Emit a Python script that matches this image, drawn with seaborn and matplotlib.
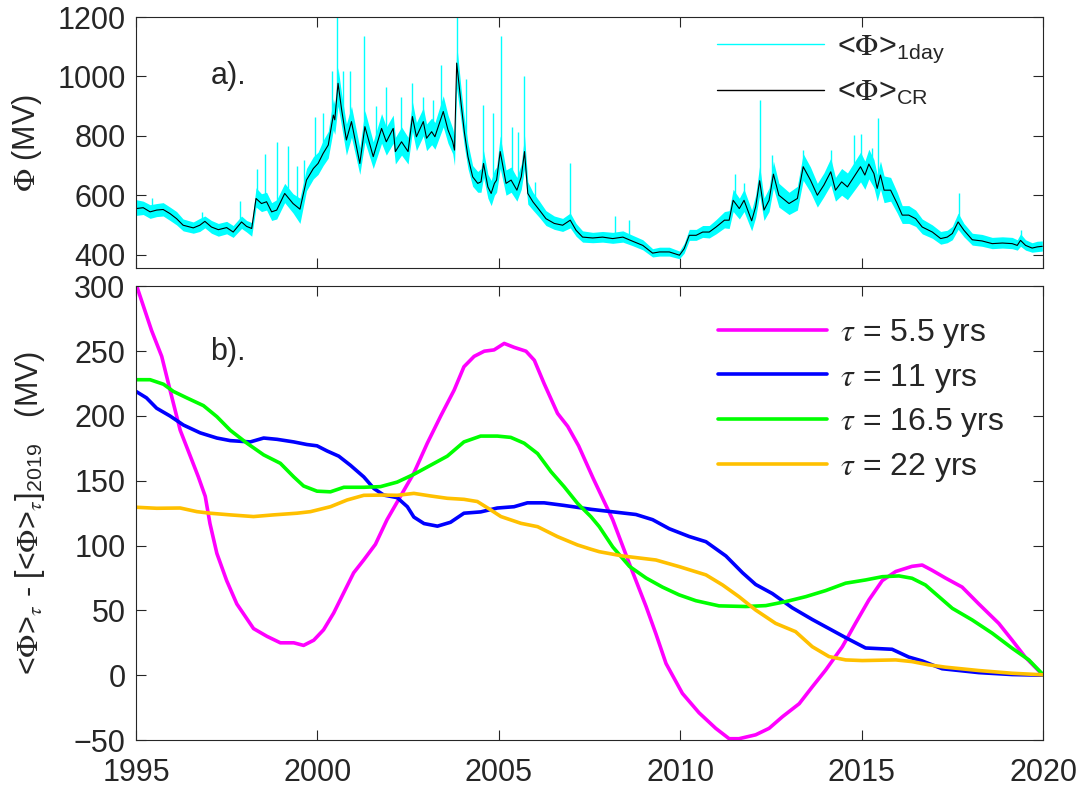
import numpy as np
import pandas as pd
import seaborn as sns
import matplotlib.pyplot as plt
from matplotlib.lines import Line2D

# ---- panel a: open solar flux, CR means and the daily band ----
phi_years = [1995.00, 1995.20, 1995.39, 1995.57, 1995.75, 1995.94, 1996.12, 1996.30, 1996.58, 1996.76,
             1996.90, 1997.08, 1997.27, 1997.50, 1997.68, 1997.91, 1998.05, 1998.19, 1998.31, 1998.46,
             1998.60, 1998.74, 1998.88, 1999.10, 1999.33, 1999.52, 1999.70, 1999.89, 2000.02, 2000.16,
             2000.30, 2000.44, 2000.48, 2000.57, 2000.67, 2000.80, 2000.94, 2001.17, 2001.31, 2001.54,
             2001.77, 2001.90, 2002.09, 2002.15, 2002.32, 2002.50, 2002.62, 2002.73, 2002.92, 2003.01,
             2003.15, 2003.24, 2003.47, 2003.60, 2003.73, 2003.78, 2003.84, 2003.96, 2004.05, 2004.15,
             2004.28, 2004.42, 2004.51, 2004.58, 2004.70, 2004.79, 2004.88, 2004.94, 2005.04, 2005.20,
             2005.34, 2005.50, 2005.62, 2005.71, 2005.80, 2005.94, 2006.12, 2006.30, 2006.53, 2006.76,
             2006.97, 2007.13, 2007.31, 2007.59, 2007.86, 2008.14, 2008.42, 2008.69, 2008.97, 2009.24,
             2009.43, 2009.70, 2009.98, 2010.11, 2010.25, 2010.44, 2010.62, 2010.80, 2010.99, 2011.22,
             2011.35, 2011.46, 2011.63, 2011.76, 2011.97, 2012.08, 2012.19, 2012.31, 2012.45, 2012.57,
             2012.72, 2013.00, 2013.23, 2013.39, 2013.59, 2013.78, 2013.96, 2014.15, 2014.28, 2014.45,
             2014.61, 2014.79, 2014.97, 2015.09, 2015.20, 2015.34, 2015.43, 2015.52, 2015.62, 2015.80,
             2015.98, 2016.12, 2016.30, 2016.49, 2016.67, 2016.95, 2017.18, 2017.36, 2017.50, 2017.66,
             2017.82, 2018.05, 2018.32, 2018.60, 2018.88, 2019.15, 2019.29, 2019.38, 2019.52, 2019.70,
             2019.84, 2019.98]
phi_cr = [555, 558, 544, 550, 552, 538, 521, 499, 490, 499,
          512, 493, 484, 491, 476, 510, 495, 488, 589, 572,
          578, 544, 550, 606, 572, 553, 651, 690, 707, 741,
          769, 870, 854, 977, 887, 786, 848, 707, 831, 730,
          825, 780, 825, 747, 780, 747, 865, 797, 848, 792,
          814, 797, 882, 820, 780, 752, 1045, 910, 814, 730,
          662, 640, 645, 707, 628, 606, 640, 651, 747, 640,
          651, 617, 662, 747, 606, 578, 550, 521, 505, 499,
          516, 482, 459, 456, 459, 454, 459, 445, 431, 405,
          409, 409, 398, 420, 465, 465, 476, 476, 493, 516,
          516, 583, 555, 583, 514, 561, 649, 550, 583, 671,
          600, 572, 589, 696, 651, 600, 634, 679, 617, 645,
          628, 662, 696, 668, 705, 673, 623, 668, 617, 617,
          572, 533, 533, 521, 493, 476, 454, 459, 471, 510,
          482, 450, 446, 437, 439, 437, 431, 448, 431, 422,
          426, 428]
phi_day_lo = [532, 535, 522, 528, 530, 515, 500, 480, 472, 478,
              490, 472, 462, 470, 458, 488, 476, 462, 560, 545,
              550, 515, 520, 575, 540, 505, 615, 655, 670, 700,
              725, 820, 805, 900, 830, 735, 795, 670, 780, 690,
              775, 735, 775, 705, 735, 705, 815, 750, 800, 750,
              770, 755, 830, 775, 740, 700, 960, 850, 765, 690,
              630, 610, 610, 660, 590, 565, 600, 610, 690, 600,
              610, 580, 620, 690, 570, 550, 525, 498, 485, 478,
              490, 462, 442, 440, 442, 438, 442, 430, 416, 392,
              395, 395, 386, 405, 448, 448, 458, 456, 470, 490,
              488, 545, 520, 545, 480, 525, 600, 515, 545, 625,
              560, 535, 550, 650, 610, 560, 595, 635, 580, 600,
              585, 615, 645, 620, 655, 625, 580, 620, 575, 580,
              540, 505, 505, 495, 470, 455, 435, 440, 450, 485,
              460, 432, 428, 420, 422, 420, 415, 428, 415, 408,
              410, 412]
phi_day_hi = [585, 580, 568, 572, 575, 560, 545, 520, 510, 522,
              530, 515, 505, 512, 498, 530, 515, 508, 625, 605,
              610, 575, 585, 640, 605, 590, 690, 730, 745, 785,
              815, 925, 905, 1030, 940, 840, 900, 760, 885, 780,
              875, 830, 870, 795, 830, 795, 915, 845, 895, 840,
              860, 845, 935, 870, 825, 800, 1110, 960, 860, 775,
              700, 680, 690, 750, 670, 650, 685, 695, 800, 685,
              695, 660, 705, 800, 645, 610, 580, 548, 530, 522,
              540, 505, 480, 475, 478, 475, 480, 465, 450, 420,
              425, 425, 412, 438, 485, 485, 498, 498, 518, 545,
              548, 620, 590, 620, 550, 600, 700, 590, 625, 715,
              640, 610, 630, 740, 695, 640, 675, 725, 660, 690,
              675, 710, 745, 715, 755, 720, 670, 715, 665, 660,
              610, 565, 565, 550, 520, 500, 478, 482, 495, 540,
              505, 472, 468, 458, 460, 458, 450, 470, 450, 440,
              445, 446]
spike_years = [1995.45, 1996.81, 1997.88, 1998.33, 1998.55, 1998.90, 1999.20, 1999.45, 1999.62, 1999.93,
               2000.16, 2000.39, 2000.55, 2000.71, 2000.91, 2001.28, 2001.62, 2001.90, 2002.30, 2002.62,
               2002.92, 2003.20, 2003.42, 2003.86, 2004.10, 2004.56, 2004.85, 2005.05, 2005.37, 2005.53,
               2005.69, 2006.00, 2006.95, 2008.20, 2008.60, 2011.50, 2011.77, 2012.19, 2012.54, 2013.38,
               2014.15, 2014.79, 2014.97, 2015.30, 2015.46, 2017.68, 2019.38]
spike_tops = [590, 545, 582, 690, 740, 778, 765, 700, 720, 865,
              876, 1017, 1210, 1017, 1017, 1137, 900, 966, 930, 977,
              932, 920, 1039, 1210, 990, 904, 876, 1137, 831, 814,
              1000, 645, 709, 530, 515, 671, 640, 921, 735, 752,
              752, 803, 806, 760, 859, 606, 482]

# ---- panel b: <Phi>_tau - [<Phi>_tau]_2019 ----
years_55 = [1995.00, 1995.43, 1995.71, 1995.94, 1996.22, 1996.54, 1996.72, 1996.91, 1997.04, 1997.23,
            1997.50, 1997.78, 1998.24, 1998.61, 1998.98, 1999.35, 1999.62, 1999.90, 2000.17, 2000.45,
            2000.68, 2001.00, 2001.28, 2001.60, 2001.92, 2002.29, 2002.66, 2003.03, 2003.40, 2003.77,
            2004.04, 2004.32, 2004.60, 2004.87, 2005.15, 2005.42, 2005.75, 2005.98, 2006.25, 2006.62,
            2006.90, 2007.20, 2007.60, 2008.14, 2008.60, 2009.06, 2009.33, 2009.61, 2010.06, 2010.52,
            2010.98, 2011.35, 2011.62, 2012.08, 2012.45, 2012.82, 2013.28, 2013.64, 2014.01, 2014.47,
            2014.83, 2015.20, 2015.57, 2015.94, 2016.39, 2016.67, 2016.94, 2017.31, 2017.77, 2018.23,
            2018.78, 2019.15, 2019.51, 2020.00]
dphi_55 = [302, 266, 246, 220, 189, 166, 153, 138, 117, 94,
           73, 55, 36, 30, 25, 25, 23, 27, 35, 48,
           61, 79, 89, 101, 120, 138, 156, 179, 200, 220,
           238, 246, 250, 251, 256, 253, 250, 243, 225, 202,
           192, 177, 152, 120, 86, 53, 32, 9, -14, -29,
           -41, -49, -49, -46, -41, -32, -22, -9, 4, 22,
           40, 58, 73, 80, 84, 85, 81, 75, 68, 55,
           40, 27, 14, 0]
years_11 = [1995.00, 1995.29, 1995.57, 1995.94, 1996.31, 1996.77, 1997.23, 1997.60, 1998.15, 1998.52,
            1998.89, 1999.35, 1999.71, 1999.99, 2000.27, 2000.59, 2000.91, 2001.28, 2001.56, 2001.83,
            2002.20, 2002.48, 2002.66, 2002.94, 2003.31, 2003.67, 2004.04, 2004.50, 2004.96, 2005.42,
            2005.79, 2006.25, 2006.80, 2007.54, 2008.78, 2009.24, 2009.70, 2010.25, 2010.71, 2011.26,
            2011.72, 2012.08, 2012.54, 2013.09, 2013.64, 2014.10, 2014.56, 2015.11, 2015.84, 2016.30,
            2016.67, 2017.22, 2018.23, 2019.15, 2020.00]
dphi_11 = [219, 214, 206, 200, 193, 187, 183, 181, 180, 183,
           182, 180, 178, 177, 173, 169, 162, 153, 144, 139,
           137, 130, 122, 117, 115, 118, 125, 126, 129, 130,
           133, 133, 131, 128, 124, 120, 113, 107, 103, 92,
           79, 70, 63, 52, 43, 36, 29, 21, 20, 14,
           11, 5, 2, 0.5, 0]
years_165 = [1995.00, 1995.39, 1995.76, 1996.03, 1996.40, 1996.86, 1997.23, 1997.60, 1998.06, 1998.52,
             1998.98, 1999.35, 1999.62, 1999.99, 2000.36, 2000.73, 2001.28, 2001.74, 2002.20, 2002.66,
             2003.12, 2003.58, 2004.04, 2004.50, 2004.96, 2005.33, 2005.70, 2006.07, 2006.44, 2006.80,
             2007.17, 2007.54, 2007.77, 2008.14, 2008.60, 2009.06, 2009.51, 2009.97, 2010.43, 2011.07,
             2011.81, 2012.36, 2012.91, 2013.46, 2014.01, 2014.56, 2015.11, 2015.57, 2016.03, 2016.39,
             2016.76, 2017.13, 2017.50, 2018.05, 2018.60, 2019.15, 2019.61, 2020.00]
dphi_165 = [228, 228, 224.5, 219, 214, 208, 199.5, 189, 179, 170,
            163.5, 153, 146, 142, 141.5, 145, 145, 145.5, 149, 155,
            162, 169, 180, 184.5, 184.5, 183.5, 179, 171, 157, 145.5,
            132.6, 122.3, 114.6, 99, 84, 75, 68, 62, 57.5, 53.5,
            53, 53.7, 56.8, 60.6, 65.3, 71, 73.5, 76, 76.6, 74.8,
            69.6, 60.6, 51.6, 42.6, 32.4, 20.8, 11.8, 0.5]
years_22 = [1995.00, 1995.57, 1996.22, 1996.68, 1997.04, 1997.60, 1998.24, 1998.79, 1999.44, 1999.81,
            2000.36, 2000.82, 2001.28, 2001.83, 2002.20, 2002.66, 2003.12, 2003.58, 2004.04, 2004.41,
            2004.78, 2005.06, 2005.61, 2006.07, 2006.62, 2007.17, 2007.54, 2007.77, 2008.41, 2009.33,
            2009.97, 2010.71, 2011.17, 2011.62, 2012.08, 2012.63, 2013.18, 2013.64, 2014.10, 2014.56,
            2015.02, 2015.94, 2016.39, 2016.85, 2017.31, 2018.23, 2019.15, 2020.00]
dphi_22 = [129.6, 128.8, 129, 126.2, 125, 123.7, 122.4, 123.7, 125, 126.2,
           130, 135.2, 138.8, 139, 138.8, 140.3, 138.3, 136.5, 135.7, 134,
           127.5, 122.4, 117.2, 114.6, 106.9, 100.5, 97.2, 95.3, 92, 88.9,
           83.8, 77.4, 69.6, 60.6, 50.3, 40, 33.6, 22, 14.4, 11.8,
           11.3, 11.8, 10.5, 8, 6.2, 3.6, 1.5, 0.3]

tau_labels = ['5.5', '11', '16.5', '22']
tau_colors = ['#ff00ff', '#0000ff', '#00ff00', '#ffc000']
tau_data = [(years_55, dphi_55), (years_11, dphi_11), (years_165, dphi_165), (years_22, dphi_22)]

sns.set_style('ticks')
plt.rcParams['font.family'] = ['Liberation Sans', 'DejaVu Sans']
plt.rcParams['mathtext.fontset'] = 'stix'
plt.rcParams['font.size'] = 22

fig = plt.figure(figsize=(10.85, 7.94), dpi=100)
ax1 = fig.add_axes([0.1253, 0.6625, 0.836, 0.316])
ax2 = fig.add_axes([0.1253, 0.068, 0.836, 0.5713])

# daily band and its spikes, then the CR-averaged line on top
ax1.fill_between(phi_years, phi_day_lo, phi_day_hi, color='cyan', lw=0)
spike_base = np.interp(spike_years, phi_years, phi_cr)
ax1.vlines(spike_years, spike_base, spike_tops, color='cyan', lw=1.0)
sns.lineplot(x=phi_years, y=phi_cr, ax=ax1, color='black', lw=0.8, estimator=None, sort=False)

ax1.set_xlim(1995, 2020)
ax1.set_ylim(355, 1200)
ax1.set_xticks(range(1995, 2021, 5))
ax1.set_xticklabels([])
ax1.set_yticks([400, 600, 800, 1000, 1200])
ax1.set_ylabel(r'$\Phi$ (MV)')
ax1.text(1997.05, 1000, 'a).', va='center', ha='left')
ax1.legend(handles=[Line2D([], [], color='cyan', lw=1), Line2D([], [], color='black', lw=1)],
           labels=[r'<$\Phi$>$_{\mathregular{1day}}$', r'<$\Phi$>$_{\mathregular{CR}}$'],
           loc='upper left', bbox_to_anchor=(0.641, 0.94), frameon=False,
           handlelength=3.5, handletextpad=0.4, borderpad=0, borderaxespad=0, labelspacing=0.4)

for lab, col, (xs, ys) in zip(tau_labels, tau_colors, tau_data):
    sns.lineplot(x=xs, y=ys, ax=ax2, color=col, lw=2.6, estimator=None, sort=False,
                 label=r'$\tau$ = ' + lab + ' yrs')

ax2.set_xlim(1995, 2020)
ax2.set_ylim(-50, 300)
ax2.set_xticks(range(1995, 2021, 5))
ax2.set_yticks(range(-50, 301, 50))
ax2.set_ylabel(r'<$\Phi$>$_\tau$ - [<$\Phi$>$_\tau$]$_{\mathregular{2019}}$   (MV)')
ax2.text(1997.05, 249, 'b).', va='center', ha='left')
ax2.legend(loc='upper left', bbox_to_anchor=(0.642, 0.933), frameon=False, fontsize=23,
           handlelength=3.4, handletextpad=0.4, borderpad=0, borderaxespad=0, labelspacing=0.37)

for ax in (ax1, ax2):
    ax.tick_params(direction='in', length=7, width=0.8, top=True, right=True, labelsize=22)
    ax.tick_params(axis='y', pad=7.5)
    ax.tick_params(axis='x', pad=13)
    for sp in ax.spines.values():
        sp.set_linewidth(0.8)
ax1.yaxis.set_label_coords(-0.101, 0.5)
ax2.yaxis.set_label_coords(-0.098, 0.5)

fig.savefig('out.png', dpi=100)
